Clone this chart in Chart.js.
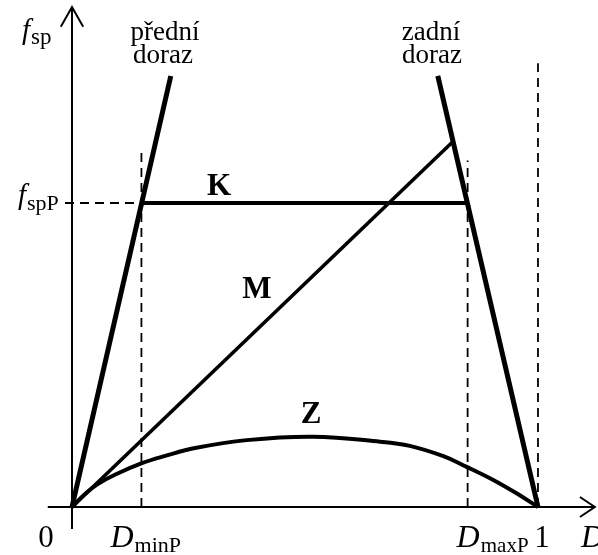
<!DOCTYPE html>
<html>
<head>
<meta charset="utf-8">
<script src="https://cdn.jsdelivr.net/npm/chart.js@4.4.0/dist/chart.umd.min.js"></script>
<style>
  html, body { margin: 0; padding: 0; background: #fff; }
  #wrap { width: 598px; height: 555px; }
</style>
</head>
<body>
<div id="wrap"><canvas id="myChart"></canvas></div>
<script>
// střída D (0..1) a síla f_sp, f_spP = 1
const dMinP = 0.149;
const dMaxP = 0.849;
const fSpP = 1;

const predniDoraz = [{ x: 0, y: 0 }, { x: 0.212, y: 1.418 }];
const zadniDoraz = [{ x: 0.785, y: 1.418 }, { x: 1, y: 0 }];
const krivkaK = [{ x: dMinP, y: fSpP }, { x: dMaxP, y: fSpP }];
const krivkaM = [{ x: 0, y: 0 }, { x: 0.816, y: 1.2 }];

// křivka Z odečtená po bodech
const zD = [0, 0.028, 0.056, 0.092, 0.15, 0.20, 0.264, 0.375, 0.517, 0.661, 0.725, 0.797, 0.847, 0.904, 0.954, 1.0];
const zF = [0, 0.043, 0.076, 0.106, 0.144, 0.168, 0.194, 0.220, 0.231, 0.215, 0.201, 0.167, 0.132, 0.089, 0.045, 0];

// čárkované pomocné čáry
const carkaMin = [{ x: dMinP, y: 0 }, { x: dMinP, y: 1.17 }];
const carkaMax = [{ x: dMaxP, y: 0 }, { x: dMaxP, y: 1.14 }];
const carkaJedna = [{ x: 1, y: 0 }, { x: 1, y: 1.46 }];
const carkaF = [{ x: -0.015, y: fSpP }, { x: dMinP, y: fSpP }];

// osy se šipkami
const osaX = [{ x: -0.052, y: 0 }, { x: 1.122, y: 0 }];
const sipkaX = [{ x: 1.09, y: 0.033 }, { x: 1.122, y: 0 }, { x: 1.09, y: -0.033 }];
const osaY = [{ x: 0, y: -0.072 }, { x: 0, y: 1.645 }];
const sipkaY = [{ x: -0.024, y: 1.58 }, { x: 0, y: 1.645 }, { x: 0.024, y: 1.58 }];

const popiskyKrivek = ['K', 'M', 'Z'];
const popiskyOsyX = ['0', '1'];

let plna = (data, w) => ({
  data: data, borderColor: '#000', borderWidth: w, pointRadius: 0,
  fill: false, tension: 0, borderJoinStyle: 'miter'
});
let carkovana = (data) => ({
  data: data, borderColor: '#000', borderWidth: 1.8, pointRadius: 0,
  fill: false, borderDash: [9, 6]
});

const zData = zD.map((d, i) => ({ x: d, y: zF[i] }));

const serif = '"Liberation Serif", "DejaVu Serif", serif';

// text se spodním indexem
function sIndexem(ctx, hlavni, index, px, py, velikost, velikostIdx, posun) {
  ctx.font = `italic ${velikost}px ${serif}`;
  ctx.textAlign = 'left';
  ctx.fillText(hlavni, px, py);
  let w = ctx.measureText(hlavni).width;
  ctx.font = `${velikostIdx}px ${serif}`;
  ctx.fillText(index, px + w + 1, py + posun);
}

const popisky = {
  id: 'popisky',
  afterDraw(chart) {
    const { ctx, scales: { x, y } } = chart;
    ctx.save();
    ctx.fillStyle = '#000';
    ctx.textBaseline = 'alphabetic';

    const x0 = x.getPixelForValue(0);
    const y0 = y.getPixelForValue(0);

    // osa y
    sIndexem(ctx, 'f', 'sp', x0 - 50, y.getPixelForValue(1.54), 29, 23, 5);
    sIndexem(ctx, 'f', 'spP', x0 - 54, y.getPixelForValue(fSpP) + 1, 29, 22, 6);

    // osa x
    ctx.font = `31px ${serif}`;
    ctx.textAlign = 'center';
    ctx.fillText(popiskyOsyX[0], x0 - 26, y0 + 40);
    ctx.fillText(popiskyOsyX[1], x.getPixelForValue(1) + 4, y0 + 40);
    sIndexem(ctx, 'D', 'minP', x.getPixelForValue(dMinP) - 31, y0 + 40, 32, 22, 5);
    sIndexem(ctx, 'D', 'maxP', x.getPixelForValue(dMaxP) - 11, y0 + 40, 32, 21, 5);
    ctx.font = `italic 32px ${serif}`;
    ctx.textAlign = 'left';
    ctx.fillText('D', x.getPixelForValue(1) + 43, y0 + 40);

    // dorazy
    ctx.font = `27px ${serif}`;
    ctx.textAlign = 'center';
    ctx.fillText('přední', 165, 40);
    ctx.fillText('doraz', 163, 63);
    ctx.fillText('zadní', 431, 40);
    ctx.fillText('doraz', 432, 63);

    // křivky
    ctx.font = `bold 31px ${serif}`;
    ctx.fillText(popiskyKrivek[0], 219, 195);
    ctx.fillText(popiskyKrivek[1], 257, 298);
    ctx.fillText(popiskyKrivek[2], 311, 423);

    ctx.restore();
  }
};

let myChart = document.getElementById('myChart');

new Chart(myChart, {
  type: 'line',
  data: {
    datasets: [
      plna(osaX, 2), plna(sipkaX, 2), plna(osaY, 2), plna(sipkaY, 2),
      carkovana(carkaMin), carkovana(carkaMax), carkovana(carkaJedna), carkovana(carkaF),
      plna(predniDoraz, 5), plna(zadniDoraz, 5),
      plna(krivkaK, 4), plna(krivkaM, 3.6),
      Object.assign(plna(zData, 4), { tension: 0.4, borderJoinStyle: 'round' })
    ]
  },
  options: {
    responsive: true,
    maintainAspectRatio: false,
    animation: false,
    layout: { padding: 0 },
    plugins: { legend: { display: false }, tooltip: { enabled: false } },
    scales: {
      x: { type: 'linear', display: false, min: -0.1545, max: 1.1288 },
      y: { type: 'linear', display: false, min: -0.1579, max: 1.6678 }
    }
  },
  plugins: [popisky]
});
</script>
</body>
</html>
